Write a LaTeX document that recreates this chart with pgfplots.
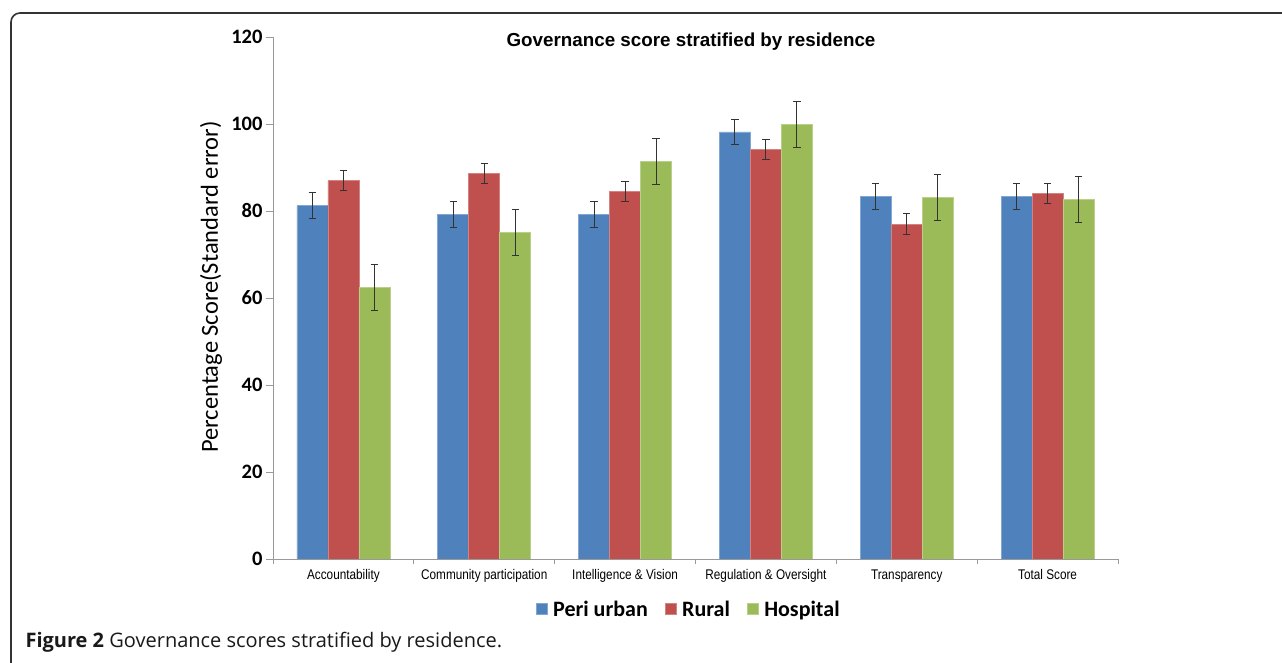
\documentclass[border=0pt]{standalone}
\usepackage{pgfplots}
\usepackage{pgfplotstable}
\pgfplotsset{compat=1.18}
\usepackage{fontspec}
\setmainfont{Carlito}
\newfontfamily\arialfont{Liberation Sans}
\newfontfamily\narrowfont[FakeStretch=0.84]{Liberation Sans}
\newfontfamily\capfont{Open Sans}
\definecolor{cblue}{HTML}{4F81BD}
\definecolor{cred}{HTML}{C0504D}
\definecolor{cgreen}{HTML}{9BBB59}

\pgfplotstableread{
x y e
0 81.2 3.0
1 79.2 3.0
2 79.2 3.0
3 98.2 2.9
4 83.3 3.0
5 83.3 3.0
}\peri
\pgfplotstableread{
x y e
0 87.0 2.4
1 88.6 2.3
2 84.5 2.3
3 94.2 2.3
4 77.0 2.4
5 84.0 2.3
}\rural
\pgfplotstableread{
x y e
0 62.4 5.3
1 75.0 5.3
2 91.4 5.3
3 99.9 5.3
4 83.2 5.3
5 82.6 5.3
}\hosp

\pgfplotsset{
  myerr/.style={error bars/.cd, y dir=both, y explicit,
    error bar style={line width=1pt, color=black!80},
    error mark=-,
    error mark options={rotate=90, line width=1pt, mark size=3.7pt, color=black!80}},
}

\begin{document}
\begin{tikzpicture}[x=1pt,y=1pt]
\useasboundingbox (0,0) rectangle (1282,663);
\draw[line width=1.6pt, color=black!80, rounded corners=9pt] (11,-10) -- (11,650) -- (1300,650);
\begin{axis}[
  at={(273pt,104pt)}, anchor=south west,
  width=845pt, height=522pt, scale only axis,
  xmin=-0.5, xmax=5.5, ymin=0, ymax=120,
  axis x line*=bottom, axis y line*=left,
  axis line style={draw=gray!80, line width=0.9pt},
  ytick={0,20,...,120},
  tick align=outside, major tick length=7pt,
  ytick style={draw=gray!80, line width=0.9pt},
  xtick={0,...,5},
  xticklabels={Accountability, Community participation, Intelligence \& Vision, Regulation \& Oversight, Transparency, Total Score},
  xtick style={draw=none},
  extra x ticks={-0.5,0.5,...,5.5},
  extra x tick labels={},
  extra x tick style={xtick style={draw=gray!80, line width=0.9pt}, major tick length=5pt},
  /pgf/number format/assume math mode=true,
  yticklabel style={font=\bfseries\fontsize{20.5}{24}\selectfont},
  xticklabel style={font=\narrowfont\fontsize{14}{16}\selectfont},
  ylabel={Percentage Score(Standard error)},
  ylabel style={font=\fontsize{24.5}{28}\selectfont, at={(axis description cs:-0.0734,0.521)}, anchor=center},
  title={Governance score stratified by residence},
  every axis title shift=0pt,
  title style={font=\arialfont\bfseries\fontsize{18.8}{22}\selectfont, at={(axis description cs:0.4947,0.981)}, anchor=base},
  legend columns=3,
  legend style={at={(0.492,-0.096)}, anchor=center, draw=none, fill=none,
    font=\bfseries\fontsize{22}{26}\selectfont,
    /tikz/every even column/.append style={column sep=15pt}},
  legend image code/.code={\fill[#1] (0pt,-5.5pt) rectangle (11pt,5.5pt); \path[draw=none,fill=none] (0pt,-0.1pt) rectangle (15pt,0.1pt);},
]
\addplot[ybar, bar width=0.22, bar shift=0, fill=cblue, draw=cblue!70!white, line width=0.6pt, myerr]
  table[x expr=\thisrow{x}-0.22, y=y, y error=e] {\peri};
\addlegendentry{Peri urban}
\addplot[ybar, bar width=0.22, bar shift=0, fill=cred, draw=cred!70!white, line width=0.6pt, myerr]
  table[x=x, y=y, y error=e] {\rural};
\addlegendentry{Rural}
\addplot[ybar, bar width=0.22, bar shift=0, fill=cgreen, draw=cgreen!70!white, line width=0.6pt, myerr]
  table[x expr=\thisrow{x}+0.22, y=y, y error=e] {\hosp};
\addlegendentry{Hospital}
\end{axis}
\node[anchor=west, font=\capfont\fontsize{20}{24}\selectfont, text=black!90] at (22,21) {\textbf{Figure 2} Governance scores stratified by residence.};
\end{tikzpicture}
\end{document}
